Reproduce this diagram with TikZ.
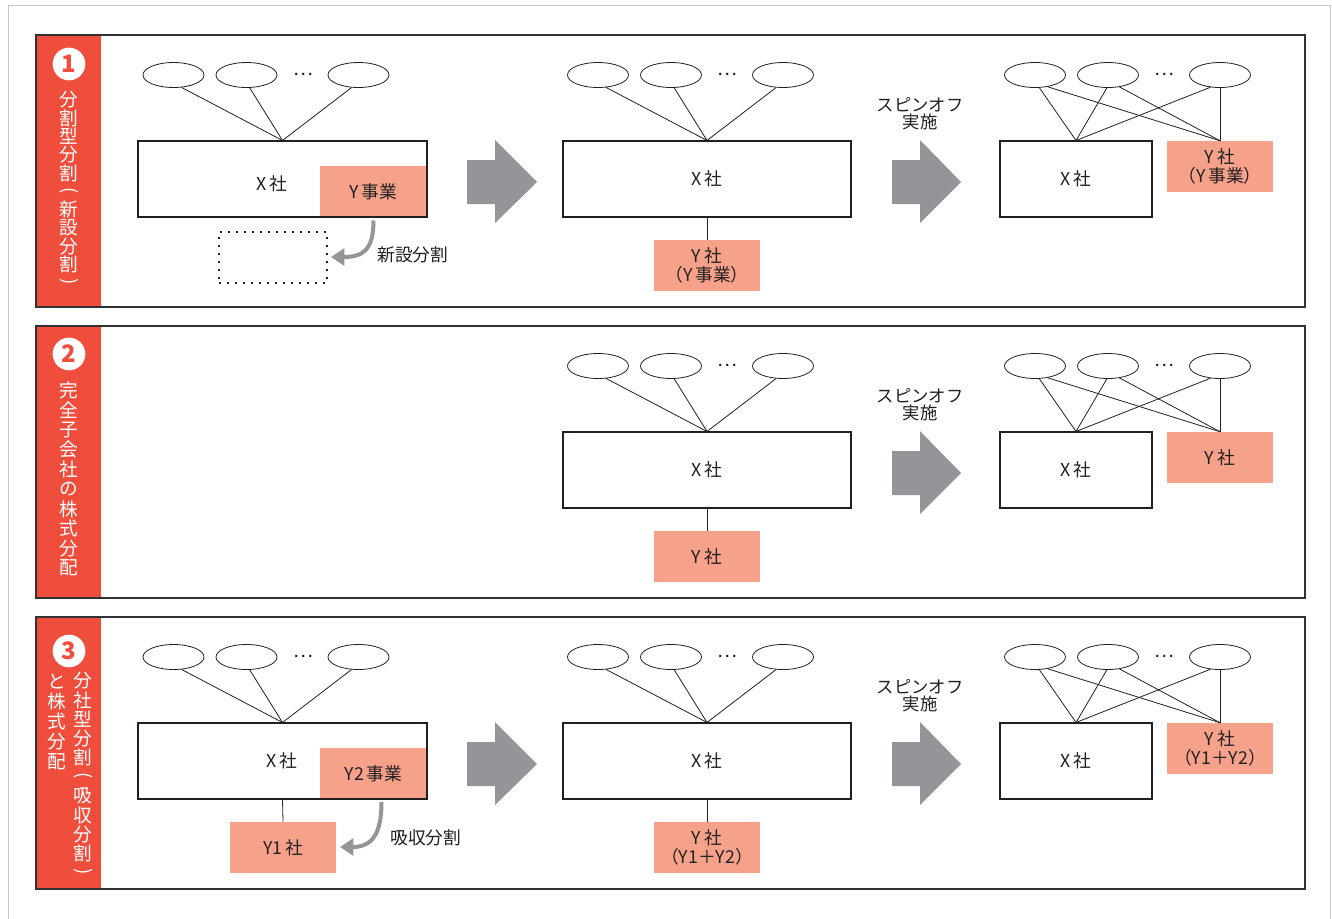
\documentclass[tikz,border=0pt]{standalone}
\usepackage{fontspec}
\usepackage{graphicx}
\setmainfont{Noto Sans CJK JP}
\usetikzlibrary{shapes.geometric,arrows.meta}
\definecolor{redstrip}{RGB}{239,78,61}
\definecolor{salmon}{RGB}{246,162,139}
\definecolor{arrowgray}{RGB}{148,149,153}
\definecolor{linec}{RGB}{35,31,32}
\definecolor{textc}{RGB}{35,31,32}
\definecolor{framec}{RGB}{200,200,200}
\definecolor{panelc}{RGB}{50,50,50}

\newcommand\owners[1]{%
  \node[owner] (o1) at (#1,75) {};
  \node[owner] (o2) at (#1+73,75) {};
  \node[dotsl] (od) at (#1+129.5,74) {…};
  \node[owner] (o3) at (#1+185,75) {};
}
\newcommand\bigarrow[2]{%
  \fill[arrowgray] (#1,160) -- (#1+28,160) -- (#1+28,140) -- (#1+#2,182) -- (#1+28,223) -- (#1+28,204) -- (#1,204) -- cycle;
}

\begin{document}
\begin{tikzpicture}[x=0.75pt,y=-0.75pt,
  every node/.style={text=textc, font=\fontsize{13.3}{14}\selectfont},
  owner/.style={ellipse, draw=linec, line width=0.6pt, fill=white, minimum width=45.75pt, minimum height=18.75pt, inner sep=0pt},
  dotsl/.style={inner sep=0pt, font=\fontsize{14}{14}\selectfont},
  link/.style={draw=linec, line width=0.6pt},
  cobox/.style={draw=linec, line width=0.8pt, inner sep=0pt, minimum height=57pt},
  ybox/.style={fill=salmon, inner sep=0pt, minimum width=79.5pt, minimum height=38.25pt, align=center},
  dotbox/.style={draw=linec, line width=1.3pt, dash pattern=on 1.3pt off 4.7pt, minimum width=81pt, minimum height=38.25pt, inner sep=0pt},
  bendarrow/.style={draw=arrowgray, line width=3pt, -{Triangle[length=10pt,width=12.5pt]}},
  vtext/.style={text=white, font=\fontsize{14}{14}\selectfont, inner sep=0pt},
  numc/.style={circle, fill=white, minimum size=24.5pt, inner sep=0pt, text=redstrip, font=\bfseries\fontsize{18}{18}\selectfont},
  spin/.style={align=center, font=\fontsize{13}{12.5}\selectfont},
  panel/.style={draw=panelc, line width=0.9pt}
]
\fill[white] (0,0) rectangle (1332,918);
\useasboundingbox (0,0) rectangle (1332,918);
\begin{scope}
  \clip (0,0) rectangle (1332,918);
  \draw[framec, line width=0.8pt] (8.5,5.5) rectangle (1330.5,960);
\end{scope}

% ---------- panel frames ----------
\foreach \dy/\n in {0/1,291/2,582/3}{
  \fill[redstrip] (36,35+\dy) rectangle (101,307+\dy);
  \draw[panel] (36,35+\dy) rectangle (1305,307+\dy);
}
\node[numc] (n1) at (69,64) {1};
\node[numc] (n2) at (69,354) {2};
\node[numc] (n3) at (69,651) {3};

% vertical titles
\foreach \c [count=\i from 0] in {分,割,型,分,割,{\rotatebox[origin=c]{-90}{(}},新,設,分,割,{\rotatebox[origin=c]{-90}{)}}}
  \node[vtext] (v1-\i) at (69,100+18.3*\i) {\c};
\foreach \c [count=\i from 0] in {完,全,子,会,社,の,株,式,分,配}
  \node[vtext] (v2-\i) at (69,390.7+19.7*\i) {\c};
\foreach \c [count=\i from 0] in {分,社,型,分,割,{\rotatebox[origin=c]{-90}{(}},吸,収,分,割,{\rotatebox[origin=c]{-90}{)}}}
  \node[vtext] (v3a-\i) at (83,680.7+19.2*\i) {\c};
\foreach \c [count=\i from 0] in {と,株,式,分,配}
  \node[vtext] (v3b-\i) at (57,681.7+20*\i) {\c};

% ================= PANEL 1 =================
\begin{scope}[name prefix=a1-]
  \owners{173.5}
  \node[ybox, minimum width=80.25pt] (yb) at (373.5,191.5) {Y\,事業};
  \node[cobox, minimum width=216.75pt] (x) at (282.5,179) {};
  \node (xt) at (272,184) {X\,社};
  \draw[link] (x.north) -- (o1.-57);
  \draw[link] (x.north) -- (o2.-76);
  \draw[link] (x.north) -- (o3.-119);
  \node[dotbox] (nb) at (273,257.5) {};
  \coordinate (s) at (373.5,220.5);
  \coordinate (e) at (331,257);
  \draw[bendarrow] (s) .. controls (373.5,250) and (363,257) .. (e);
  \node[anchor=west, inner sep=0pt] (lab) at (377,255) {新設分割};
\end{scope}
\begin{scope}[name prefix=a2-]
  \owners{598}
  \node[cobox, minimum width=216pt] (x) at (707,179) {X\,社};
  \node[ybox] (y) at (707,265.5) {Y\,社\\（Y\,事業）};
  \draw[link] (x.south) -- (y.north);
  \draw[link] (x.north) -- (o1.-57);
  \draw[link] (x.north) -- (o2.-76);
  \draw[link] (x.north) -- (o3.-119);
\end{scope}
\begin{scope}[name prefix=a3-]
  \owners{1035}
  \node[cobox, minimum width=114pt] (x) at (1076,179) {X\,社};
  \node[ybox] (y) at (1220,166.5) {Y\,社\\（Y\,事業）};
  \draw[link] (x.north) -- (o1.-71);
  \draw[link] (x.north) -- (o2.-95);
  \draw[link] (x.north) -- (o3.-128);
  \draw[link] (y.north) -- (o1.-43);
  \draw[link] (y.north) -- (o2.-46);
  \draw[link] (y.north) -- (o3.-90);
  \node[spin] (sp) at (920,113.5) {スピンオフ\\実施};
\end{scope}
\bigarrow{467}{70}
\bigarrow{892}{69}

% ================= PANEL 2 =================
\begin{scope}[shift={(0,291)}, name prefix=b2-]
  \owners{598}
  \node[cobox, minimum width=216pt] (x) at (707,179) {X\,社};
  \node[ybox] (y) at (707,265.5) {Y\,社};
  \draw[link] (x.south) -- (y.north);
  \draw[link] (x.north) -- (o1.-57);
  \draw[link] (x.north) -- (o2.-76);
  \draw[link] (x.north) -- (o3.-119);
\end{scope}
\begin{scope}[shift={(0,291)}, name prefix=b3-]
  \owners{1035}
  \node[cobox, minimum width=114pt] (x) at (1076,179) {X\,社};
  \node[ybox] (y) at (1220,166.5) {Y\,社};
  \draw[link] (x.north) -- (o1.-71);
  \draw[link] (x.north) -- (o2.-95);
  \draw[link] (x.north) -- (o3.-128);
  \draw[link] (y.north) -- (o1.-43);
  \draw[link] (y.north) -- (o2.-46);
  \draw[link] (y.north) -- (o3.-90);
  \node[spin] (sp) at (920,113.5) {スピンオフ\\実施};
  \bigarrow{892}{69}
\end{scope}

% ================= PANEL 3 =================
\begin{scope}[shift={(0,582)}, name prefix=c1-]
  \owners{173.5}
  \node[ybox, minimum width=80.25pt] (yb) at (373.5,191.5) {Y2\,事業};
  \node[cobox, minimum width=216.75pt] (x) at (282.5,179) {};
  \node (xt) at (282,179) {X\,社};
  \draw[link] (x.north) -- (o1.-57);
  \draw[link] (x.north) -- (o2.-76);
  \draw[link] (x.north) -- (o3.-119);
  \node[ybox] (y1) at (283,265.5) {Y1\,社};
  \draw[link] (x.south) -- (y1.north);
  \coordinate (s) at (381.5,220);
  \coordinate (e) at (340,265);
  \draw[bendarrow] (s) .. controls (381.5,252) and (372,265) .. (e);
  \node[anchor=west, inner sep=0pt] (lab) at (390,256) {吸収分割};
  \bigarrow{467}{70}
\end{scope}
\begin{scope}[shift={(0,582)}, name prefix=c2-]
  \owners{598}
  \node[cobox, minimum width=216pt] (x) at (707,179) {X\,社};
  \node[ybox] (y) at (707,265.5) {Y\,社\\（Y1＋Y2）};
  \draw[link] (x.south) -- (y.north);
  \draw[link] (x.north) -- (o1.-57);
  \draw[link] (x.north) -- (o2.-76);
  \draw[link] (x.north) -- (o3.-119);
\end{scope}
\begin{scope}[shift={(0,582)}, name prefix=c3-]
  \owners{1035}
  \node[cobox, minimum width=114pt] (x) at (1076,179) {X\,社};
  \node[ybox] (y) at (1220,166.5) {Y\,社\\（Y1＋Y2）};
  \draw[link] (x.north) -- (o1.-71);
  \draw[link] (x.north) -- (o2.-95);
  \draw[link] (x.north) -- (o3.-128);
  \draw[link] (y.north) -- (o1.-43);
  \draw[link] (y.north) -- (o2.-46);
  \draw[link] (y.north) -- (o3.-90);
  \node[spin] (sp) at (920,113.5) {スピンオフ\\実施};
  \bigarrow{892}{69}
\end{scope}
\end{tikzpicture}
\end{document}
